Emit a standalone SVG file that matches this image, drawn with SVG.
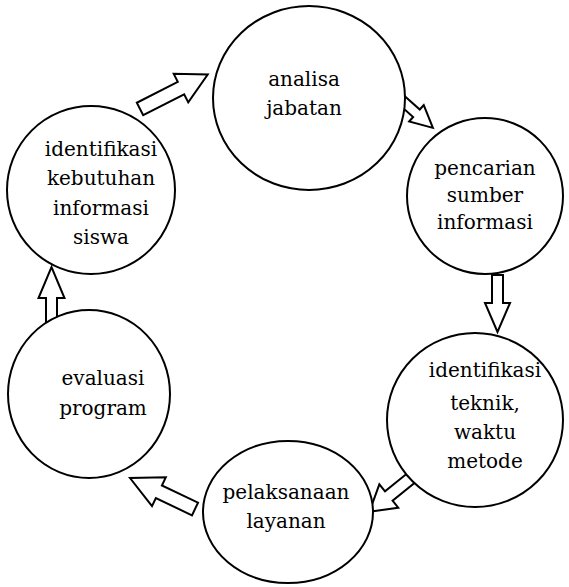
<svg xmlns="http://www.w3.org/2000/svg" width="569" height="587" viewBox="0 0 569 587">
<style>
.node ellipse{fill:#fff;stroke:#000;stroke-width:2}
.node text{font-family:"DejaVu Serif","Liberation Serif",serif;font-size:20px;fill:#000;text-anchor:middle}
.arr{fill:#fff;stroke:#000;stroke-width:2;stroke-linejoin:miter}
</style>
<rect width="569" height="587" fill="#fff"/>
<g id="connectors">
<polygon class="arr" transform="translate(140,109) rotate(-27)" points="0,-7 46,-7 46,-16 76,0 46,16 46,7 0,7"/>
<polygon class="arr" transform="translate(397,96) rotate(41.6)" points="0,-5 26,-5 26,-11 48,0 26,11 26,5 0,5"/>
<polygon class="arr" transform="translate(497.5,275) rotate(90)" points="0,-5.5 28,-5.5 28,-12.5 57,0 28,12.5 28,5.5 0,5.5"/>
<polygon class="arr" transform="translate(416,474) rotate(141)" points="0,-6 35,-6 35,-15 60,0 35,15 35,6 0,6"/>
<polygon class="arr" transform="translate(195,509) rotate(205.5)" points="0,-7 40,-7 40,-16 72,0 40,16 40,7 0,7"/>
<polygon class="arr" transform="translate(51.5,330) rotate(-90)" points="0,-5.5 32,-5.5 32,-13 63,0 32,13 32,5.5 0,5.5"/>
</g>
<g id="n1" class="node"><ellipse cx="309" cy="98" rx="96" ry="92"/><text x="304" y="86">analisa</text><text x="304" y="115">jabatan</text></g>
<g id="n2" class="node"><ellipse cx="485" cy="196" rx="78" ry="78"/><text x="485" y="175">pencarian</text><text x="485" y="202">sumber</text><text x="485" y="229">informasi</text></g>
<g id="n3" class="node"><ellipse cx="475" cy="420" rx="88" ry="87"/><text x="485" y="377">identifikasi</text><text x="485" y="410">teknik,</text><text x="485" y="439">waktu</text><text x="485" y="468">metode</text></g>
<g id="n4" class="node"><ellipse cx="288" cy="512" rx="85" ry="71"/><text x="286" y="499">pelaksanaan</text><text x="286" y="528">layanan</text></g>
<g id="n5" class="node"><ellipse cx="89" cy="394" rx="81" ry="84"/><text x="103" y="385">evaluasi</text><text x="103" y="415">program</text></g>
<g id="n6" class="node"><ellipse cx="91" cy="190" rx="84" ry="84"/><text x="101" y="156">identifikasi</text><text x="101" y="185">kebutuhan</text><text x="101" y="215">informasi</text><text x="101" y="244">siswa</text></g>
</svg>
